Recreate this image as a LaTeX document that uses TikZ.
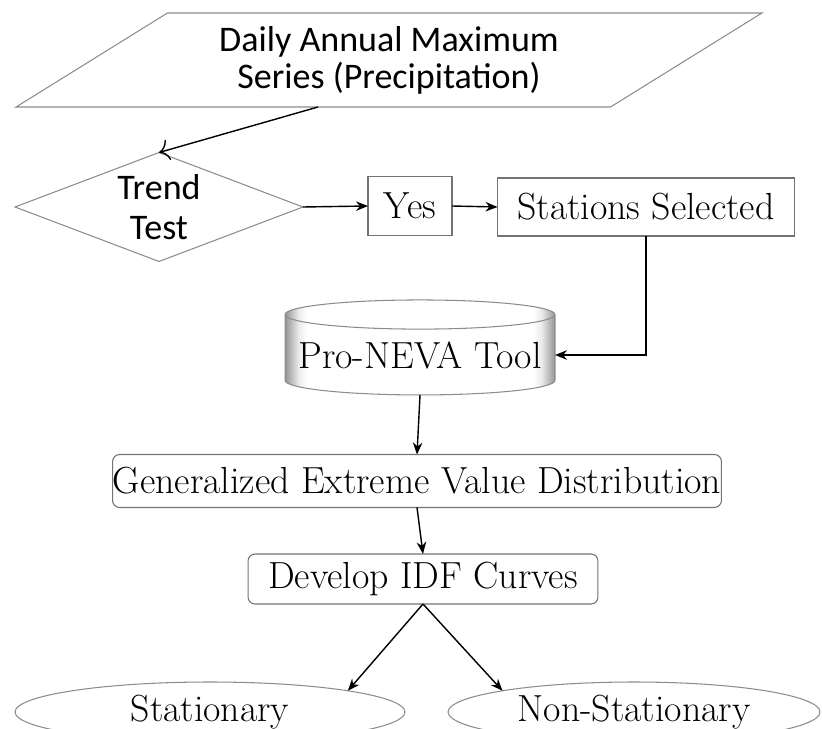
\documentclass[tikz,border=0pt]{standalone}
\usepackage{fontspec}
\newfontfamily\calibri{Carlito}
\usetikzlibrary{
    arrows.meta,
    positioning,
    shapes.geometric,
}
\pgfdeclarehorizontalshading{dbglow}{100bp}{color(0bp)=(black!42); color(25bp)=(black!42); color(27.5bp)=(black!8); color(29bp)=(white); color(71bp)=(white); color(72.5bp)=(black!8); color(75bp)=(black!42); color(100bp)=(black!42)}

\begin{document}
\begin{tikzpicture}[
        x=0.02cm, y=-0.02cm,
        >={Stealth[length=2.4mm, width=1.9mm]},
        io/.style={trapezium, trapezium left angle=24.1, trapezium right angle=155.9,
            trapezium stretches body, draw=black!45, line width=0.6pt,
            minimum width=14.92cm, minimum height=1.88cm, inner sep=0pt,
            outer sep=0pt, align=center,
            font=\calibri\fontsize{20.5}{21}\selectfont},
        decision/.style={diamond, draw=black!45, line width=0.6pt, aspect=2.64,
            inner sep=0pt, outer sep=0pt, minimum width=5.76cm, minimum height=2.18cm,
            align=center, font=\calibri\fontsize{20.5}{23}\selectfont},
        box/.style={rectangle, draw=black!55, line width=0.6pt, inner sep=0pt,
            outer sep=0pt, font=\fontsize{21.5}{24}\selectfont},
        rbox/.style={box, rounded corners=4pt},
        db/.style={cylinder, shape border rotate=90, aspect=0.12, draw=black!45,
            line width=0.6pt, shade, shading=dbglow, inner sep=0pt, outer sep=0pt,
            minimum width=5.4cm, minimum height=1.9cm, font=\fontsize{21.5}{24}\selectfont},
        term/.style={ellipse, draw=black!45, line width=0.6pt, inner sep=0pt,
            outer sep=0pt, minimum height=1.2cm, font=\fontsize{21.5}{24}\selectfont},
        flow/.style={->, line width=0.8pt},
    ]
        \useasboundingbox (0,0) rectangle (822,729);

        \node[io] (ams) at (389,60) {Daily Annual Maximum\\Series (Precipitation)};
        \node[decision] (trend) at (159,207) {Trend\\Test};
        \node[box, minimum width=1.68cm, minimum height=1.18cm] (yes) at (410,206) {Yes};
        \node[box, minimum width=5.94cm, minimum height=1.16cm] (sel) at (646,207) {Stations Selected};
        \node[db] (tool) at (420,355) {Pro-NEVA Tool};
        \node[rbox, minimum width=12.18cm, minimum height=1.06cm] (gev) at (417,481) {Generalized Extreme Value Distribution};
        \node[rbox, minimum width=7cm, minimum height=1cm] (idf) at (423,579) {Develop IDF Curves};
        \node[term, minimum width=7.8cm] (stat) at (210,712) {Stationary};
        \node[term, minimum width=7.44cm] (nonstat) at (634,712) {Non-Stationary};

        \draw[line width=0.8pt, -{To[length=2mm]}] ([xshift=-1.42cm]ams.south) -- (trend.north);
        \draw[flow] (trend.east) -- (yes.west);
        \draw[flow] (yes.east) -- (sel.west);
        \draw[flow] (sel.south) |- (tool.east);
        \draw[flow] (tool.south) -- (gev.north);
        \draw[flow] (gev.south) -- (idf.north);
        \draw[flow] (idf.south) -- (stat.north east);
        \draw[flow] (idf.south) -- (nonstat.north west);
    \end{tikzpicture}
\end{document}
